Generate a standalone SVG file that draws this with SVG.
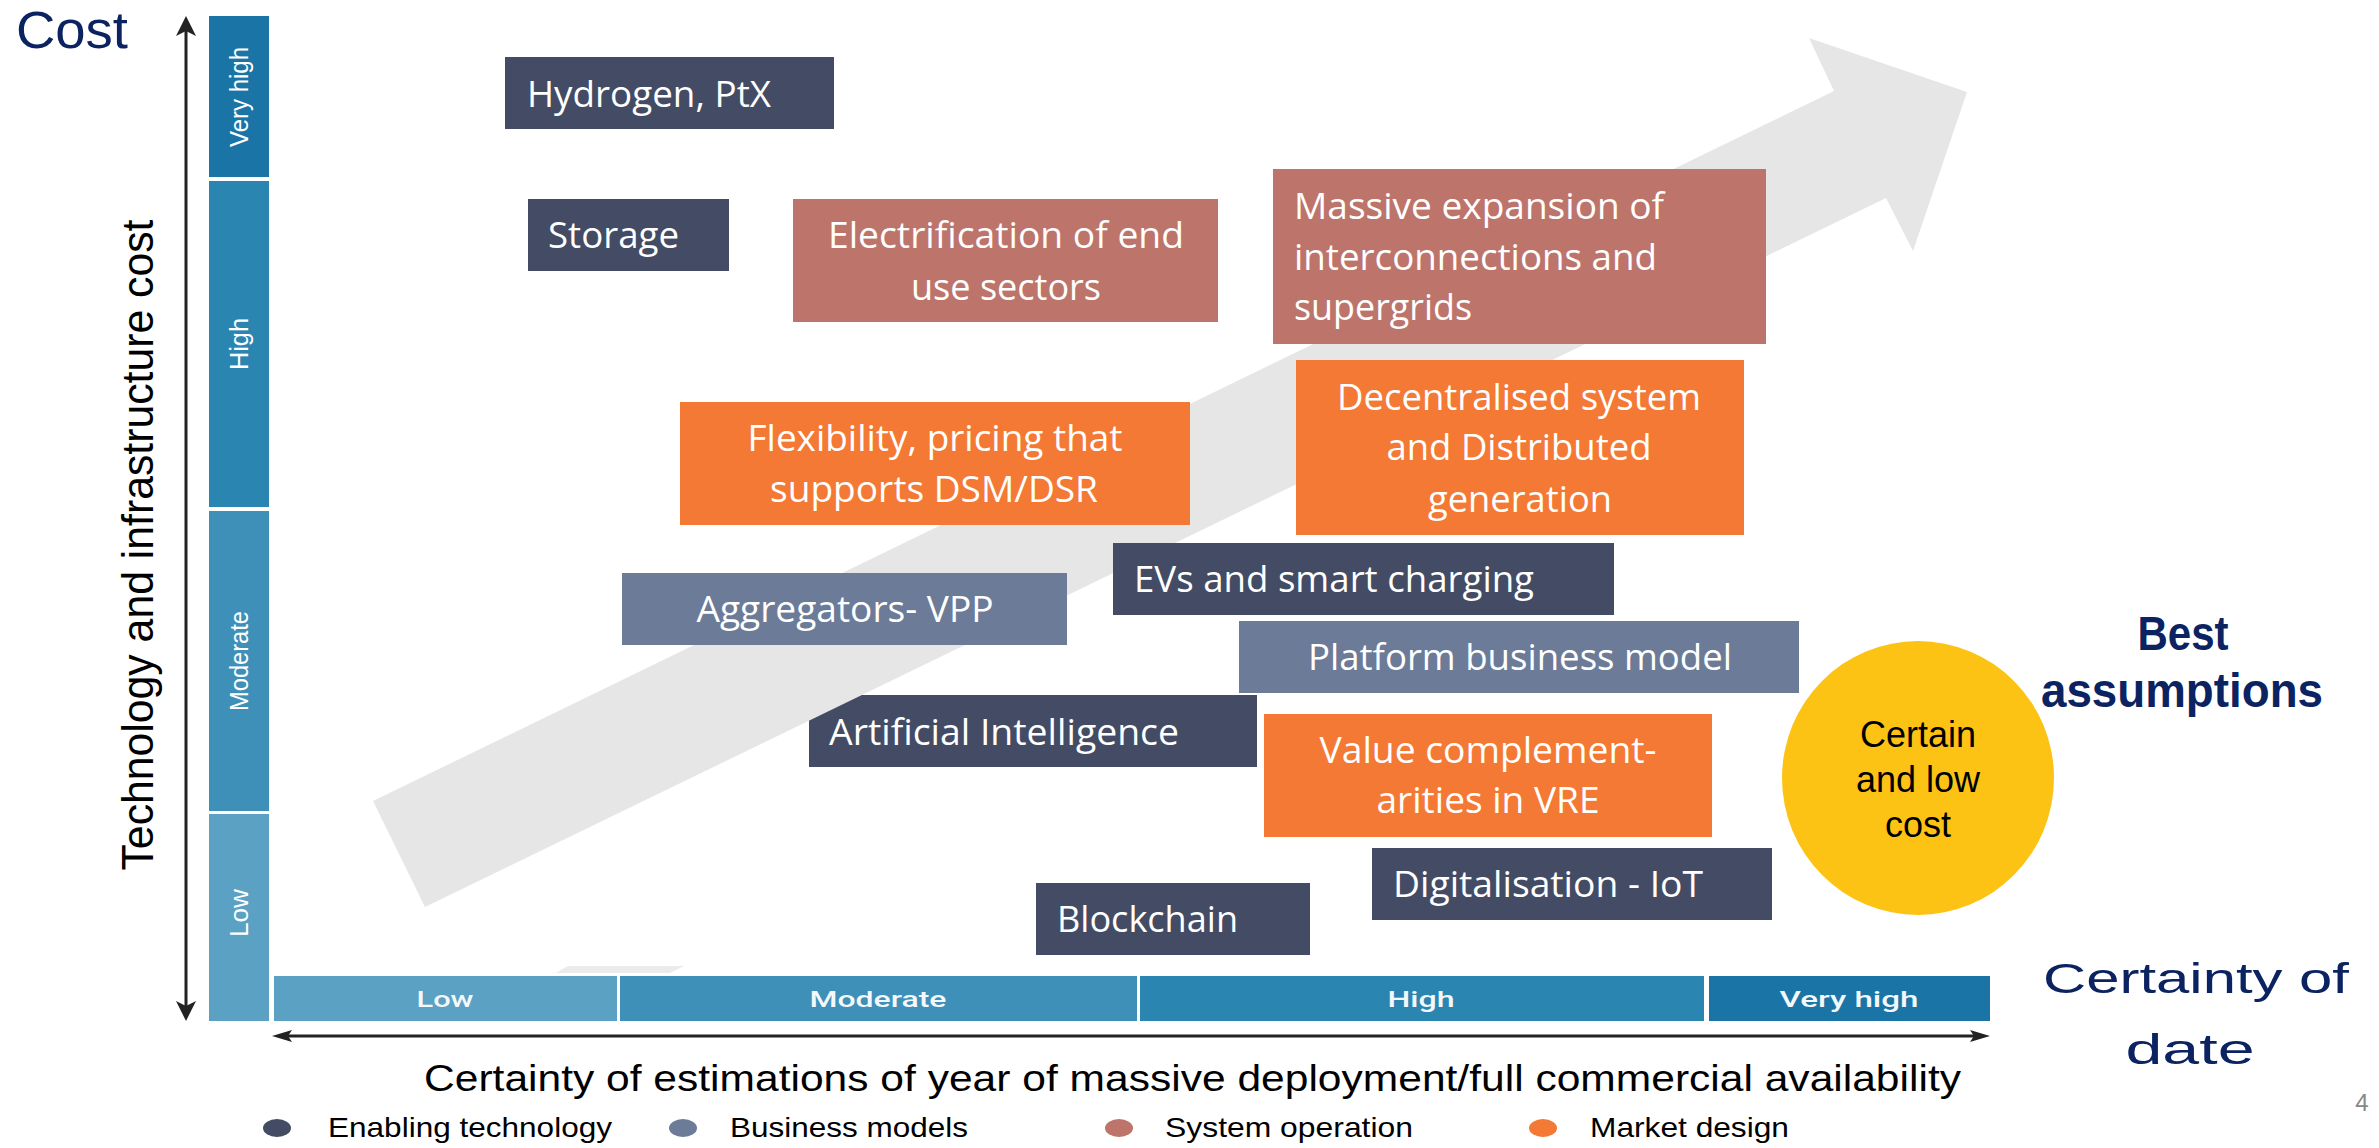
<svg xmlns="http://www.w3.org/2000/svg" width="2379" height="1148" viewBox="0 0 2379 1148">
<defs>
<marker id="ahV" viewBox="0 0 20 20" refX="8" refY="10" markerWidth="20" markerHeight="20" markerUnits="userSpaceOnUse" orient="auto-start-reverse"><path d="M0,0 L20,10 L0,20 L5,10 z" fill="#222"/></marker>
<marker id="ahH" viewBox="0 0 20 12" refX="8" refY="6" markerWidth="20" markerHeight="12" markerUnits="userSpaceOnUse" orient="auto-start-reverse"><path d="M0,0 L20,6 L0,12 L4,6 z" fill="#222"/></marker>
</defs>
<style>
.dark{fill:#434c64}
.bm{fill:#6b7b98}
.so{fill:#bd746b}
.md{fill:#f37934}
.nt{font-family:"Open Sans","Liberation Sans",sans-serif;font-size:37px;fill:#ffffff}
.mid{text-anchor:middle}
.vb{font-family:"Liberation Sans",Arial,sans-serif;font-size:26px;fill:#ffffff;text-anchor:middle}
.hb{font-family:Roboto,"Liberation Sans",Arial,sans-serif;font-size:22px;font-weight:500;fill:#f4f8fb;text-anchor:middle}
.ax{font-family:"Liberation Sans",Arial,sans-serif;fill:#000000}
.navy{font-family:"Liberation Sans",Arial,sans-serif;fill:#0c2362}
.lg{font-family:"Liberation Sans",Arial,sans-serif;font-size:28px;fill:#000000}
.c1{fill:#1a75a6}.c2{fill:#2b85b1}.c3{fill:#3f90b9}.c4{fill:#5aa1c3}
</style>
<rect x="0" y="0" width="2379" height="1148" fill="#ffffff"/>

<!-- Artificial Intelligence sits under the arrow -->
<g id="node-ai">
<rect class="dark" x="809" y="695" width="448" height="72"/>
<text class="nt" x="829" y="745" textLength="350" lengthAdjust="spacingAndGlyphs">Artificial Intelligence</text>
</g>

<g id="trend-arrow">
<polygon points="373,801 1834,91 1809,38 1967,92 1913,251 1886,198 425,907" fill="#e6e6e6"/>
<polygon points="556,973 568,966 684,966 670,973" fill="#ebebeb"/>
</g>

<g id="cost-scale">
<rect class="c1" x="209" y="16" width="60" height="161"/>
<rect class="c2" x="209" y="181" width="60" height="326"/>
<rect class="c3" x="209" y="511" width="60" height="300"/>
<rect class="c4" x="209" y="814" width="60" height="207"/>
<text class="vb" transform="translate(248,97) rotate(-90)" textLength="100" lengthAdjust="spacingAndGlyphs">Very high</text>
<text class="vb" transform="translate(248,344) rotate(-90)" textLength="52" lengthAdjust="spacingAndGlyphs">High</text>
<text class="vb" transform="translate(248,661) rotate(-90)" textLength="100" lengthAdjust="spacingAndGlyphs">Moderate</text>
<text class="vb" transform="translate(248,913) rotate(-90)" textLength="48" lengthAdjust="spacingAndGlyphs">Low</text>
</g>

<g id="date-scale">
<rect class="c4" x="274" y="976" width="343" height="45"/>
<rect class="c3" x="620" y="976" width="517" height="45"/>
<rect class="c2" x="1140" y="976" width="564" height="45"/>
<rect class="c1" x="1709" y="976" width="281" height="45"/>
<text class="hb" x="445" y="1007" textLength="57" lengthAdjust="spacingAndGlyphs">Low</text>
<text class="hb" x="878" y="1007" textLength="137" lengthAdjust="spacingAndGlyphs">Moderate</text>
<text class="hb" x="1421" y="1007" textLength="67" lengthAdjust="spacingAndGlyphs">High</text>
<text class="hb" x="1849" y="1007" textLength="139" lengthAdjust="spacingAndGlyphs">Very high</text>
</g>

<g id="connectors">
<line x1="186" y1="28" x2="186" y2="1009" stroke="#222" stroke-width="3" marker-start="url(#ahV)" marker-end="url(#ahV)"/>
<line x1="284" y1="1036" x2="1978" y2="1036" stroke="#222" stroke-width="3" marker-start="url(#ahH)" marker-end="url(#ahH)"/>
</g>

<g id="axis-labels">
<text class="navy" x="16" y="48" font-size="51" textLength="112" lengthAdjust="spacingAndGlyphs">Cost</text>
<text class="ax" font-size="45" text-anchor="middle" transform="translate(153,545) rotate(-90)" textLength="651" lengthAdjust="spacingAndGlyphs">Technology and infrastructure cost</text>
<text class="ax" x="424" y="1091" font-size="37" textLength="1537" lengthAdjust="spacingAndGlyphs">Certainty of estimations of year of massive deployment/full commercial availability</text>
<text class="navy" x="2196" y="993" font-size="42" text-anchor="middle" textLength="306" lengthAdjust="spacingAndGlyphs">Certainty of</text>
<text class="navy" x="2190" y="1064" font-size="42" text-anchor="middle" textLength="129" lengthAdjust="spacingAndGlyphs">date</text>
<text class="navy" x="2183" y="650" font-size="48" font-weight="bold" text-anchor="middle" textLength="91" lengthAdjust="spacingAndGlyphs">Best</text>
<text class="navy" x="2182" y="707" font-size="48" font-weight="bold" text-anchor="middle" textLength="282" lengthAdjust="spacingAndGlyphs">assumptions</text>
<text x="2362" y="1111" font-family="Liberation Sans, Arial, sans-serif" font-size="24" fill="#888888" text-anchor="middle">4</text>
</g>

<g id="node-hydrogen">
<rect class="dark" x="505" y="57" width="329" height="72"/>
<text class="nt" x="527" y="107" textLength="244" lengthAdjust="spacingAndGlyphs">Hydrogen, PtX</text>
</g>
<g id="node-storage">
<rect class="dark" x="528" y="199" width="201" height="72"/>
<text class="nt" x="548" y="248" textLength="131" lengthAdjust="spacingAndGlyphs">Storage</text>
</g>
<g id="node-electrification">
<rect class="so" x="793" y="199" width="425" height="123"/>
<text class="nt mid" x="1006" y="248" textLength="356" lengthAdjust="spacingAndGlyphs">Electrification of end</text>
<text class="nt mid" x="1006" y="300" textLength="190" lengthAdjust="spacingAndGlyphs">use sectors</text>
</g>
<g id="node-massive">
<rect class="so" x="1273" y="169" width="493" height="175"/>
<text class="nt" x="1294" y="219" textLength="370" lengthAdjust="spacingAndGlyphs">Massive expansion of</text>
<text class="nt" x="1294" y="270" textLength="363" lengthAdjust="spacingAndGlyphs">interconnections and</text>
<text class="nt" x="1294" y="320" textLength="178" lengthAdjust="spacingAndGlyphs">supergrids</text>
</g>
<g id="node-flexibility">
<rect class="md" x="680" y="402" width="510" height="123"/>
<text class="nt mid" x="935" y="451" textLength="375" lengthAdjust="spacingAndGlyphs">Flexibility, pricing that</text>
<text class="nt mid" x="934" y="502" textLength="328" lengthAdjust="spacingAndGlyphs">supports DSM/DSR</text>
</g>
<g id="node-decentralised">
<rect class="md" x="1296" y="360" width="448" height="175"/>
<text class="nt mid" x="1519" y="410" textLength="364" lengthAdjust="spacingAndGlyphs">Decentralised system</text>
<text class="nt mid" x="1519" y="460" textLength="265" lengthAdjust="spacingAndGlyphs">and Distributed</text>
<text class="nt mid" x="1520" y="512" textLength="184" lengthAdjust="spacingAndGlyphs">generation</text>
</g>
<g id="node-evs">
<rect class="dark" x="1113" y="543" width="501" height="72"/>
<text class="nt" x="1134" y="592" textLength="400" lengthAdjust="spacingAndGlyphs">EVs and smart charging</text>
</g>
<g id="node-aggregators">
<rect class="bm" x="622" y="573" width="445" height="72"/>
<text class="nt mid" x="845" y="622" textLength="297" lengthAdjust="spacingAndGlyphs">Aggregators- VPP</text>
</g>
<g id="node-platform">
<rect class="bm" x="1239" y="621" width="560" height="72"/>
<text class="nt mid" x="1520" y="670" textLength="424" lengthAdjust="spacingAndGlyphs">Platform business model</text>
</g>
<g id="node-value">
<rect class="md" x="1264" y="714" width="448" height="123"/>
<text class="nt mid" x="1488" y="763" textLength="337" lengthAdjust="spacingAndGlyphs">Value complement-</text>
<text class="nt mid" x="1488" y="813" textLength="223" lengthAdjust="spacingAndGlyphs">arities in VRE</text>
</g>
<g id="node-digitalisation">
<rect class="dark" x="1372" y="848" width="400" height="72"/>
<text class="nt" x="1393" y="897" textLength="310" lengthAdjust="spacingAndGlyphs">Digitalisation - IoT</text>
</g>
<g id="node-blockchain">
<rect class="dark" x="1036" y="883" width="274" height="72"/>
<text class="nt" x="1057" y="932" textLength="181" lengthAdjust="spacingAndGlyphs">Blockchain</text>
</g>
<g id="node-best">
<ellipse cx="1918" cy="778" rx="136" ry="137" fill="#fcc314"/>
<text x="1918" y="747" font-family="Liberation Sans, Arial, sans-serif" font-size="36" fill="#000" text-anchor="middle">Certain</text>
<text x="1918" y="792" font-family="Liberation Sans, Arial, sans-serif" font-size="36" fill="#000" text-anchor="middle">and low</text>
<text x="1918" y="837" font-family="Liberation Sans, Arial, sans-serif" font-size="36" fill="#000" text-anchor="middle">cost</text>
</g>

<g id="legend">
<ellipse class="dark" cx="277" cy="1128" rx="14" ry="9"/>
<text class="lg" x="328" y="1137" textLength="284" lengthAdjust="spacingAndGlyphs">Enabling technology</text>
<ellipse class="bm" cx="683" cy="1128" rx="14" ry="9"/>
<text class="lg" x="730" y="1137" textLength="238" lengthAdjust="spacingAndGlyphs">Business models</text>
<ellipse class="so" cx="1119" cy="1128" rx="14" ry="9"/>
<text class="lg" x="1165" y="1137" textLength="248" lengthAdjust="spacingAndGlyphs">System operation</text>
<ellipse class="md" cx="1543" cy="1128" rx="14" ry="9"/>
<text class="lg" x="1590" y="1137" textLength="199" lengthAdjust="spacingAndGlyphs">Market design</text>
</g>
</svg>
